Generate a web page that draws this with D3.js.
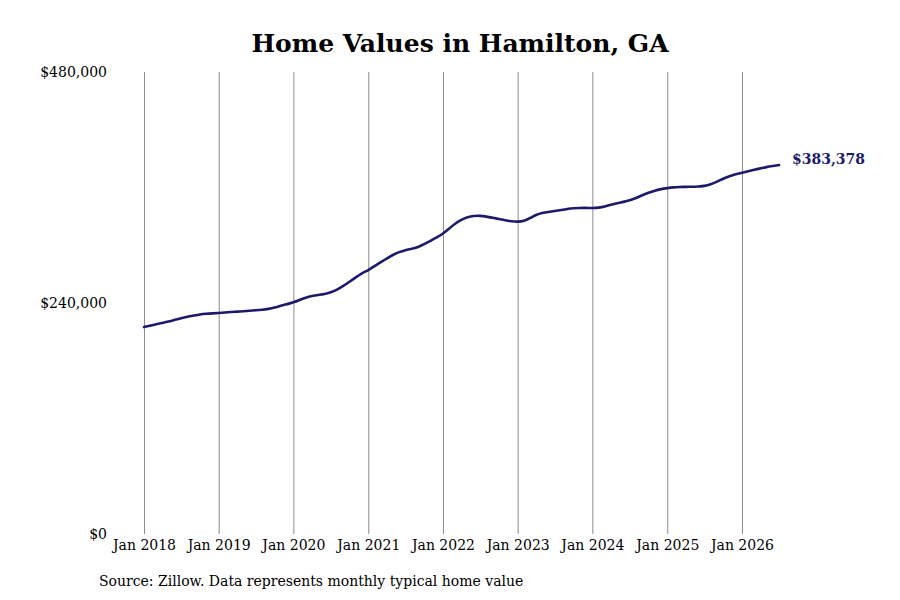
<!DOCTYPE html>
<html>
<head>
<meta charset="utf-8">
<script src="https://cdn.jsdelivr.net/npm/d3@7"></script>
<style>
  body { margin: 0; background: #fff; }
  text { font-family: "DejaVu Serif", serif; }
</style>
</head>
<body>
<div id="chart"></div>
<script>
// monthly typical home value, Jan 2018 .. Jul 2026
var startMonth = "2018-01";
var values = [
  215000, 216500, 218000, 219300, 220600, 222500, 224300, 225800, 227000, 228200, 228800, 229200,
  229600, 230100, 230600, 231000, 231500, 232000, 232400, 232900, 233800, 235200, 237200, 238800,
  240600, 243200, 245700, 247400, 248400, 249200, 251000, 253800, 257600, 262000, 266600, 271000,
  274000, 278500, 282000, 286200, 290000, 293000, 295000, 296300, 298000, 301000, 304500, 308000,
  312000, 317500, 322500, 326500, 329300, 330600, 330700, 329800, 328500, 327300, 326000, 324900,
  324300, 325000, 328000, 331800, 333600, 334600, 335600, 336700, 337800, 338500, 338800, 338800,
  338700, 339000, 340000, 342200, 343800, 345000, 346500, 349000, 352000, 354500, 356800, 358400,
  359400, 360200, 360500, 360700, 360800, 361000, 361500, 363200, 366000, 369200, 371800, 373800,
  375300, 376900, 378400, 379900, 381200, 382300, 383378
];
var yTicks = [0, 240000, 480000];
var xTickYears = [2018, 2019, 2020, 2021, 2022, 2023, 2024, 2025, 2026];

var width = 900, height = 600;
var margin = {top: 72, right: 121, bottom: 66, left: 144};

var parse = d3.timeParse("%Y-%m");
var t0 = parse(startMonth);
var data = values.map(function(v, i) {
  return {date: d3.timeMonth.offset(t0, i), value: v};
});

var svg = d3.select("#chart").append("svg")
  .attr("width", width)
  .attr("height", height);

var x = d3.scaleTime()
  .domain([parse("2018-01"), parse("2026-07")])
  .range([margin.left, width - margin.right]);

var y = d3.scaleLinear()
  .domain([0, 480000])
  .range([height - margin.bottom, margin.top]);

// title
svg.append("text")
  .attr("x", 460)
  .attr("y", 52)
  .attr("text-anchor", "middle")
  .attr("font-size", "25px")
  .attr("font-weight", "bold")
  .attr("fill", "#000")
  .text("Home Values in Hamilton, GA");

// vertical grid lines + x labels
var xDates = xTickYears.map(function(yr) { return new Date(yr, 0, 1); });
var xAxis = d3.axisBottom(x)
  .tickValues(xDates)
  .tickSize(-(y(0) - y(480000)))
  .tickPadding(6)
  .tickFormat(d3.timeFormat("Jan %Y"));

var gx = svg.append("g")
  .attr("transform", "translate(0," + y(0) + ")")
  .call(xAxis);
gx.select(".domain").remove();
gx.selectAll("line").attr("stroke", "#8c8c8c").attr("stroke-width", 1);
gx.selectAll("text")
  .attr("font-family", "DejaVu Serif")
  .attr("font-size", "14px")
  .attr("fill", "#000");

// y labels
var yAxis = d3.axisLeft(y)
  .tickValues(yTicks)
  .tickSize(0)
  .tickPadding(37)
  .tickFormat(function(d) { return "$" + d3.format(",")(d); });

var gy = svg.append("g")
  .attr("transform", "translate(" + margin.left + ",0)")
  .call(yAxis);
gy.select(".domain").remove();
gy.selectAll("text")
  .attr("font-family", "DejaVu Serif")
  .attr("font-size", "14px")
  .attr("fill", "#000");

// line
var line = d3.line()
  .x(function(d) { return x(d.date); })
  .y(function(d) { return y(d.value); })
  .curve(d3.curveBasis);

svg.append("path")
  .datum(data)
  .attr("d", line)
  .attr("fill", "none")
  .attr("stroke", "#1c1a6a")
  .attr("stroke-width", 2.6)
  .attr("stroke-linejoin", "round")
  .attr("stroke-linecap", "round");

// end label
var last = data[data.length - 1];
svg.append("text")
  .attr("x", x(last.date) + 13)
  .attr("y", y(last.value) - 6)
  .attr("dy", "0.35em")
  .attr("font-size", "14px")
  .attr("font-weight", "bold")
  .attr("fill", "#1c1a6a")
  .text("$" + d3.format(",")(last.value));

// source note
svg.append("text")
  .attr("x", 99)
  .attr("y", 586)
  .attr("font-size", "14px")
  .attr("fill", "#000")
  .text("Source: Zillow. Data represents monthly typical home value");
</script>
</body>
</html>
